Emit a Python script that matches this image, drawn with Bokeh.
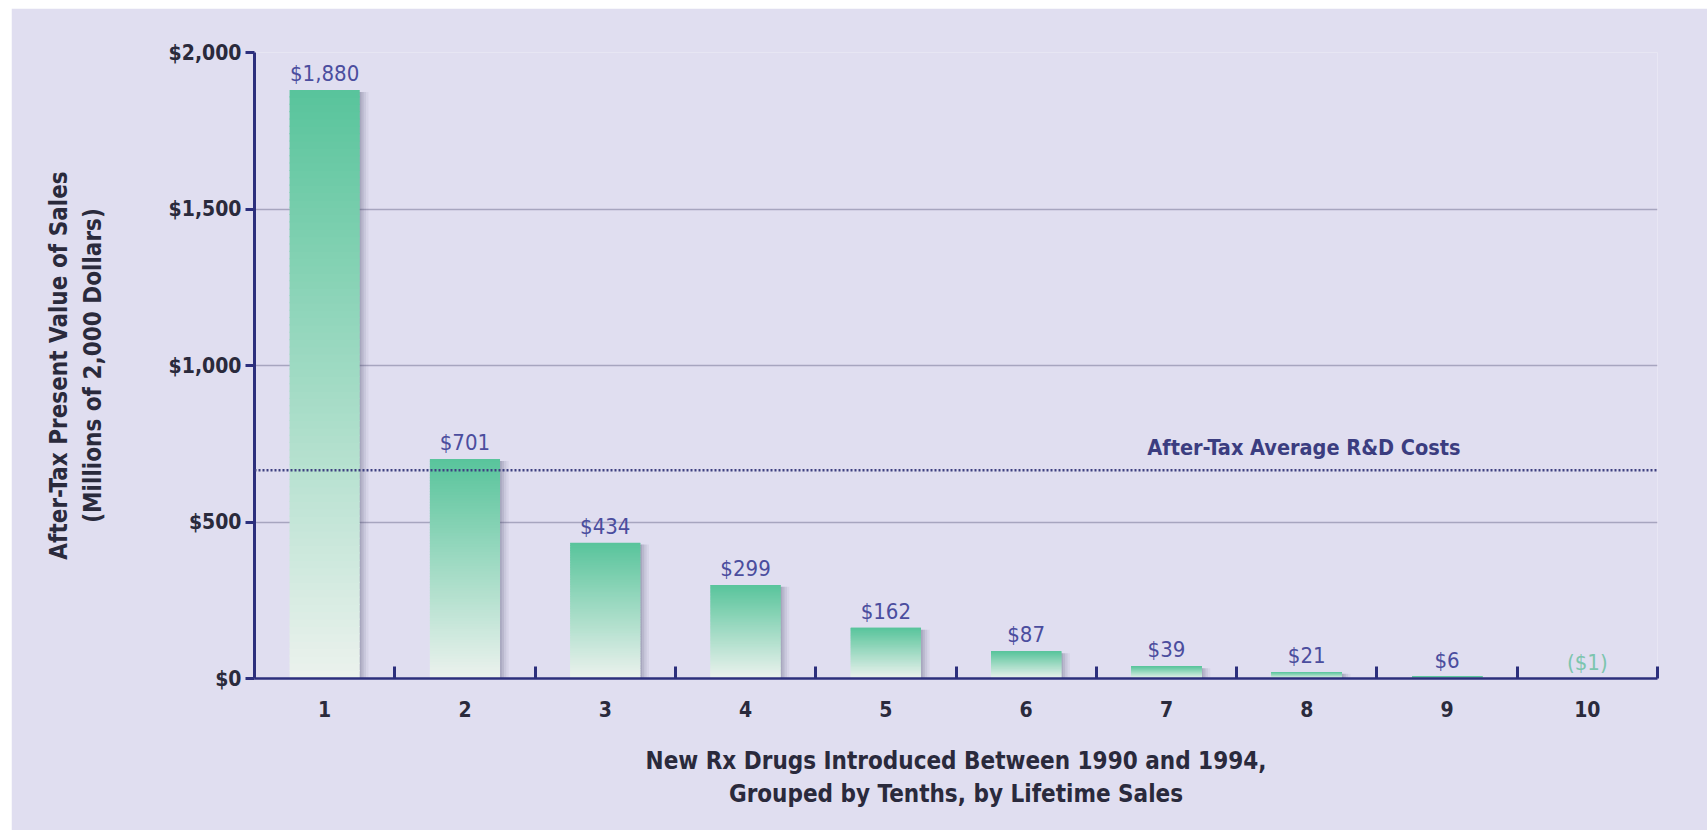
from bokeh.plotting import figure
from bokeh.models import (ColumnDataSource, FixedTicker, NumeralTickFormatter,
                          Span, Label, Spacer)
from bokeh.layouts import column, row
from bokeh.core.properties import value
from bokeh.embed import file_html
from bokeh.resources import INLINE

# Lifetime sales by decile (after-tax present value, $ millions of 2000)
deciles = [1, 2, 3, 4, 5, 6, 7, 8, 9, 10]
sales = [1880, 701, 434, 299, 162, 87, 39, 21, 6, -1]
sale_labels = ["$1,880", "$701", "$434", "$299", "$162", "$87", "$39", "$21", "$6", "($1)"]
rd_cost = 665
rd_label = "After-Tax Average R&D Costs"
y_ticks = [0, 500, 1000, 1500, 2000]

FONT = "'DejaVu Sans Condensed', 'DejaVu Sans', sans-serif"
BG = "#E0DEF0"
NAVY = "#2C2F7C"
TEXT = "#2A2A3C"
LABEL_BLUE = "#4B4D9E"
NEG_GREEN = "#7CC5AE"
TOP_RGB = (88, 196, 155)
BOTTOM_RGB = (236, 242, 238)
BAR_W = 0.5

p = figure(width=1696, height=822, x_range=(0.5, 10.5), y_range=(0, 2000),
           output_backend="svg", toolbar_location=None,
           min_border_left=243, min_border_right=50,
           min_border_top=44, min_border_bottom=152)
p.background_fill_color = BG
p.border_fill_color = BG
p.outline_line_color = None

# grid
p.xgrid.grid_line_color = None
p.ygrid.grid_line_color = "#A7A5BF"
p.ygrid.grid_line_width = 1.5

# soft shadow to the lower right of each bar
pos = [(d, v) for d, v in zip(deciles, sales) if v > 0]
for dx, a in [(0.012, 0.15), (0.028, 0.12), (0.045, 0.09), (0.062, 0.06)]:
    p.quad(left=[d - BAR_W / 2 + dx for d, v in pos],
           right=[d + BAR_W / 2 + dx for d, v in pos],
           top=[v - 6 for d, v in pos],
           bottom=[-14] * len(pos),
           fill_color="#4A4A6A", fill_alpha=a, line_color=None)

# bars with a vertical gradient, built as thin overlapping slices of each bar
n_slices = 80
L, R, T, B, C = [], [], [], [], []
for d, v in pos:
    for k in range(n_slices):
        t = (k + 0.5) / n_slices
        rgb = tuple(int(round(b + (tp - b) * t)) for b, tp in zip(BOTTOM_RGB, TOP_RGB))
        L.append(d - BAR_W / 2)
        R.append(d + BAR_W / 2)
        B.append(v * k / n_slices)
        T.append(min(v * (k + 1) / n_slices + 3.5, v))
        C.append("#%02x%02x%02x" % rgb)
p.quad(left=L, right=R, top=T, bottom=B, fill_color=C, line_color=None)

# average R&D cost reference line
p.add_layout(Span(location=rd_cost, dimension="width", line_color="#3E4080",
                  line_width=2.5, line_dash="2 2"))
p.add_layout(Label(x=7.98, y=rd_cost, text=rd_label, y_offset=10,
                   text_align="center", text_baseline="bottom",
                   text_font=FONT, text_font_size="21.5px",
                   text_font_style="bold", text_color="#3B3D80"))

# value labels above bars
lab = ColumnDataSource(dict(
    x=deciles, y=[max(v, 0) for v in sales], text=sale_labels,
    color=[LABEL_BLUE if v >= 0 else NEG_GREEN for v in sales],
))
p.text(x="x", y="y", text="text", source=lab, text_color="color",
       text_align="center", text_baseline="bottom", y_offset=-4,
       text_font=value(FONT), text_font_size="22px")

# y axis
ya = p.yaxis[0]
ya.ticker = FixedTicker(ticks=y_ticks)
ya.formatter = NumeralTickFormatter(format="$0,0")
ya.axis_line_color = NAVY
ya.axis_line_width = 3
ya.major_tick_line_color = NAVY
ya.major_tick_line_width = 3
ya.major_tick_out = 9
ya.major_tick_in = 0
ya.minor_tick_line_color = None
ya.major_label_standoff = 4
ya.major_label_text_font = FONT
ya.major_label_text_font_size = "21px"
ya.major_label_text_font_style = "bold"
ya.major_label_text_color = TEXT
ya.axis_label = "After-Tax Present Value of Sales\n(Millions of 2,000 Dollars)"
ya.axis_label_text_font = FONT
ya.axis_label_text_font_size = "24px"
ya.axis_label_text_font_style = "bold"
ya.axis_label_text_color = TEXT
ya.axis_label_standoff = 59

# x axis: labels at decile centres, ticks at the boundaries between them
xa = p.xaxis[0]
xa.ticker = FixedTicker(ticks=deciles, minor_ticks=[d + 0.5 for d in deciles])
xa.axis_line_color = NAVY
xa.axis_line_width = 2.5
xa.major_tick_line_color = None
xa.minor_tick_line_color = NAVY
xa.minor_tick_line_width = 3
xa.minor_tick_in = 12
xa.minor_tick_out = 0
xa.major_label_standoff = 16
xa.major_label_text_font = FONT
xa.major_label_text_font_size = "21px"
xa.major_label_text_font_style = "bold"
xa.major_label_text_color = TEXT
xa.axis_label = "New Rx Drugs Introduced Between 1990 and 1994,\nGrouped by Tenths, by Lifetime Sales"
xa.axis_label_text_font = FONT
xa.axis_label_text_font_size = "24px"
xa.axis_label_text_font_style = "bold"
xa.axis_label_text_color = TEXT
xa.axis_label_standoff = 27

layout = column(Spacer(height=8), row(Spacer(width=11), p))
open("out.html", "w").write(file_html(layout, INLINE))
